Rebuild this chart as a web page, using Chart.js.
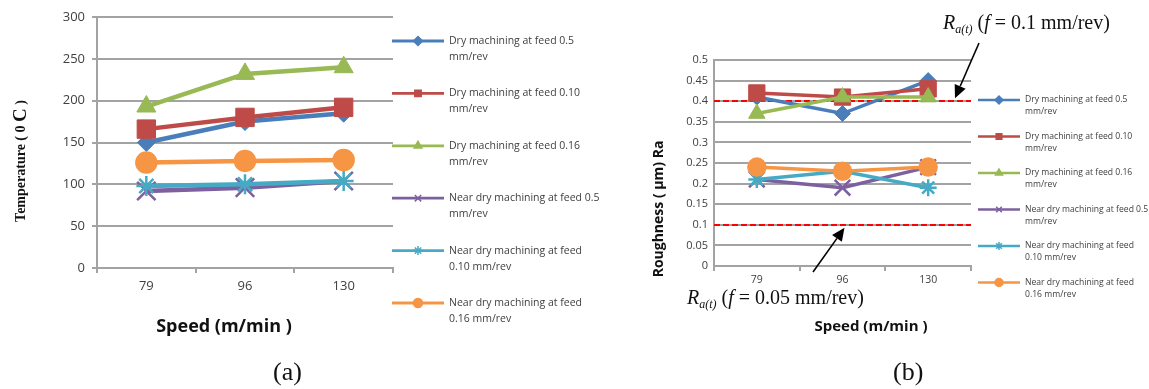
<!DOCTYPE html>
<html>
<head>
<meta charset="utf-8">
<script src="https://cdn.jsdelivr.net/npm/chart.js@4.4.1/dist/chart.umd.min.js"></script>
<style>
  body { margin: 0; background: #fff; width: 1149px; height: 389px; position: relative; overflow: hidden; }
  #temp { position: absolute; left: 0; top: 0; }
  #rough { position: absolute; left: 575px; top: 0; }
  .cap { position: absolute; top: 357px; font: 26px "Liberation Serif", serif; color: #111; line-height: 30px; }
</style>
</head>
<body>
<canvas id="rough" width="574" height="389"></canvas>
<canvas id="temp" width="600" height="389"></canvas>
<div class="cap" style="left:273px">(a)</div>
<div class="cap" style="left:893px">(b)</div>
<script>
// cutting speed (m/min)
const speeds = ["79", "96", "130"];

const legendText = [
  ["Dry machining at feed 0.5", "mm/rev"],
  ["Dry machining at feed 0.10", "mm/rev"],
  ["Dry machining at feed 0.16", "mm/rev"],
  ["Near dry machining at feed 0.5", "mm/rev"],
  ["Near dry machining at feed", "0.10 mm/rev"],
  ["Near dry machining at feed", "0.16 mm/rev"],
];

// (a) temperature, deg C
const tempDry05 = [150, 175, 185];
const tempDry010 = [166, 180, 192];
const tempDry016 = [193, 232, 240];
const tempNear05 = [92, 96, 104];
const tempNear010 = [98, 100, 104];
const tempNear016 = [126, 128, 129];

// (b) roughness Ra, um
const raDry05 = [0.41, 0.37, 0.45];
const raDry010 = [0.42, 0.41, 0.43];
const raDry016 = [0.37, 0.41, 0.41];
const raNear05 = [0.21, 0.19, 0.24];
const raNear010 = [0.21, 0.23, 0.19];
const raNear016 = [0.24, 0.23, 0.24];
const raLimits = [0.4, 0.1];

const colors = ["#4A7EBB", "#BE4B48", "#98B954", "#7D60A0", "#46AAC5", "#F69544"];
const styles = ["rectRot", "rect", "triangle", "crossRot", "star", "circle"];
const gridGray = "#a3a3a3";
const textGray = "#404040";

function makeSets(series, lineW, radii) {
  return series.map((d, i) => ({
    label: legendText[i].join(" "),
    data: d,
    borderColor: colors[i],
    backgroundColor: colors[i],
    borderWidth: lineW,
    pointStyle: styles[i],
    pointRadius: radii[i],
    pointBorderWidth: i >= 3 ? 2.5 : 1,
    pointBorderColor: colors[i],
    pointBackgroundColor: colors[i],
    order: 6 - i,
  }));
}

// draws a run of text pieces with different fonts
function drawRich(ctx, segs, x, y) {
  let cx = x;
  segs.forEach((s) => {
    ctx.font = s.font;
    ctx.fillText(s.t, cx, y + (s.dy || 0));
    cx += ctx.measureText(s.t).width;
  });
  return cx - x;
}
function richWidth(ctx, segs) {
  let w = 0;
  segs.forEach((s) => { ctx.font = s.font; w += ctx.measureText(s.t).width; });
  return w;
}

function arrow(ctx, x1, y1, x2, y2) {
  const a = Math.atan2(y2 - y1, x2 - x1);
  const L = 13, W = 6;
  const bx = x2 - L * Math.cos(a), by = y2 - L * Math.sin(a);
  ctx.save();
  ctx.strokeStyle = "#000";
  ctx.fillStyle = "#000";
  ctx.lineWidth = 1.6;
  ctx.beginPath();
  ctx.moveTo(x1, y1);
  ctx.lineTo(bx, by);
  ctx.stroke();
  ctx.beginPath();
  ctx.moveTo(x2, y2);
  ctx.lineTo(bx + W * Math.sin(a), by - W * Math.cos(a));
  ctx.lineTo(bx - W * Math.sin(a), by + W * Math.cos(a));
  ctx.closePath();
  ctx.fill();
  ctx.restore();
}

const sideLegend = {
  id: "sideLegend",
  afterDraw(chart, args, o) {
    const ctx = chart.ctx;
    chart.data.datasets.forEach((ds, i) => {
      const y = o.top + i * o.gap;
      ctx.save();
      ctx.strokeStyle = ds.borderColor;
      ctx.lineWidth = o.lineWidth;
      ctx.beginPath();
      ctx.moveTo(o.x, y);
      ctx.lineTo(o.x + o.len, y);
      ctx.stroke();
      ctx.fillStyle = ds.backgroundColor;
      ctx.lineWidth = 1.5;
      Chart.helpers.drawPoint(ctx, { pointStyle: ds.pointStyle, radius: o.radius, borderWidth: 1.5, rotation: 0 }, o.x + o.len / 2, y);
      ctx.fillStyle = textGray;
      ctx.font = o.font;
      ctx.textBaseline = "middle";
      ctx.textAlign = "left";
      legendText[i].forEach((t, k) => ctx.fillText(t, o.x + o.len + 5, y + k * o.lineGap));
      ctx.restore();
    });
  },
};

const axisTitles = {
  id: "axisTitles",
  afterDraw(chart, args, o) {
    const ctx = chart.ctx;
    ctx.save();
    ctx.fillStyle = "#111";
    ctx.textBaseline = "middle";
    ctx.textAlign = "left";
    const xw = richWidth(ctx, o.xTitle);
    drawRich(ctx, o.xTitle, o.xPos[0] - xw / 2, o.xPos[1]);
    ctx.translate(o.yPos[0], o.yPos[1]);
    ctx.rotate(-Math.PI / 2);
    const yw = richWidth(ctx, o.yTitle);
    drawRich(ctx, o.yTitle, -yw / 2, 0);
    ctx.restore();
  },
};

const limitLines = {
  id: "limitLines",
  beforeDatasetsDraw(chart) {
    const { ctx, chartArea, scales } = chart;
    ctx.save();
    ctx.strokeStyle = "#ff0000";
    ctx.lineWidth = 2;
    ctx.setLineDash([6, 3]);
    raLimits.forEach((v) => {
      const y = Math.round(scales.y.getPixelForValue(v));
      ctx.beginPath();
      ctx.moveTo(chartArea.left, y);
      ctx.lineTo(chartArea.right, y);
      ctx.stroke();
    });
    ctx.restore();
  },
  afterDraw(chart) {
    const { ctx, chartArea, scales } = chart;
    const ital = '20px "Liberation Serif"';
    const italI = 'italic 20px "Liberation Serif"';
    const sub = 'italic 12px "Liberation Serif"';
    const label = (val) => [
      { t: "R", font: italI },
      { t: "a(t)", font: sub, dy: 4 },
      { t: " (", font: ital },
      { t: "f", font: italI },
      { t: " = " + val + " mm/rev)", font: ital },
    ];
    ctx.save();
    ctx.fillStyle = "#111";
    ctx.textBaseline = "alphabetic";
    ctx.textAlign = "left";
    drawRich(ctx, label("0.1"), 368, 29);
    drawRich(ctx, label("0.05"), 112, 304);
    ctx.restore();
    arrow(ctx, 404, 43, chartArea.right - 16, scales.y.getPixelForValue(raLimits[0]) - 3);
    arrow(ctx, 238, 272, scales.x.getPixelForValue(1) + 2, scales.y.getPixelForValue(raLimits[1]) + 3);
  },
};

new Chart(document.getElementById("temp"), {
  type: "line",
  data: {
    labels: speeds,
    datasets: makeSets(
      [tempDry05, tempDry010, tempDry016, tempNear05, tempNear010, tempNear016],
      4.5,
      [9, 13, 11, 13, 10, 10]
    ),
  },
  options: {
    responsive: false,
    animation: false,
    layout: { padding: { left: 0, right: 207, top: 17, bottom: 60 } },
    plugins: {
      legend: { display: false },
      tooltip: { enabled: false },
      sideLegend: { x: 392, len: 52, top: 41, gap: 52.4, lineGap: 16, lineWidth: 2.8, radius: 4.5, font: '10.5px "Open Sans"' },
      axisTitles: {
        xTitle: [{ t: "Speed (m/min )", font: 'bold 18px "Open Sans"' }],
        xPos: [224, 327],
        yTitle: [
          { t: "Temperature ( 0 ", font: 'bold 14px "Liberation Serif"' },
          { t: "C", font: 'bold 19px "Liberation Serif"' },
          { t: " )", font: 'bold 14px "Liberation Serif"' },
        ],
        yPos: [21, 161],
      },
    },
    scales: {
      x: {
        offset: true,
        afterFit: (s) => { s.height = 61; },
        grid: { offset: true, drawOnChartArea: false, color: gridGray, lineWidth: 2, tickLength: 5 },
        border: { color: gridGray, width: 2 },
        ticks: { color: textGray, font: { family: "Open Sans", size: 13 }, padding: 5 },
      },
      y: {
        min: 0,
        max: 300,
        afterFit: (s) => { s.width = 97; },
        grid: { color: gridGray, lineWidth: 2, tickLength: 5 },
        border: { color: gridGray, width: 2 },
        ticks: { stepSize: 50, color: textGray, font: { family: "Open Sans", size: 13 }, padding: 7 },
      },
    },
  },
  plugins: [sideLegend, axisTitles],
});

new Chart(document.getElementById("rough"), {
  type: "line",
  data: {
    labels: speeds,
    datasets: makeSets(
      [raDry05, raDry010, raDry016, raNear05, raNear010, raNear016],
      3.5,
      [8, 11.5, 9.5, 11, 8.5, 8.5]
    ),
  },
  options: {
    responsive: false,
    animation: false,
    layout: { padding: { left: 0, right: 178, top: 60, bottom: 60 } },
    plugins: {
      legend: { display: false },
      tooltip: { enabled: false },
      sideLegend: { x: 403, len: 42, top: 100, gap: 36.5, lineGap: 12, lineWidth: 2.5, radius: 4, font: '8.6px "Open Sans"' },
      axisTitles: {
        xTitle: [{ t: "Speed (m/min )", font: 'bold 15px "Open Sans"' }],
        xPos: [296, 327],
        yTitle: [{ t: "Roughness ( µm) Ra", font: 'bold 14px "Open Sans"' }],
        yPos: [84, 209],
      },
    },
    scales: {
      x: {
        offset: true,
        afterFit: (s) => { s.height = 63; },
        grid: { offset: true, drawOnChartArea: false, color: gridGray, lineWidth: 2, tickLength: 5 },
        border: { color: gridGray, width: 2 },
        ticks: { color: textGray, font: { family: "Open Sans", size: 10.5 }, padding: 3 },
      },
      y: {
        min: 0,
        max: 0.5,
        afterFit: (s) => { s.width = 139; },
        grid: { color: gridGray, lineWidth: 2, drawTicks: false },
        border: { color: gridGray, width: 2 },
        ticks: {
          stepSize: 0.05,
          color: textGray,
          font: { family: "Open Sans", size: 11 },
          padding: 6,
          callback: (v) => String(+v.toFixed(2)),
        },
      },
    },
  },
  plugins: [sideLegend, axisTitles, limitLines],
});
</script>
</body>
</html>
